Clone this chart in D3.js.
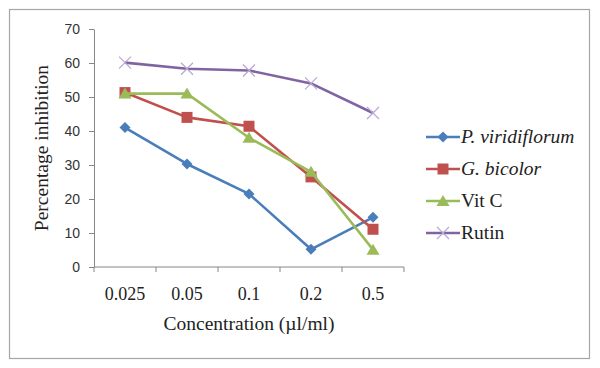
<!DOCTYPE html>
<html>
<head>
<meta charset="utf-8">
<script src="https://cdn.jsdelivr.net/npm/d3@7"></script>
<style>
  body { margin: 0; background: #fff; }
  .ytick text { font-family: "Liberation Sans", Arial, sans-serif; font-size: 14px; fill: #333; }
  .xtick text { font-family: "Liberation Serif", "Times New Roman", serif; font-size: 18px; fill: #222; }
  .title { font-family: "Liberation Serif", "Times New Roman", serif; font-size: 19.5px; fill: #222; }
  .legend text { font-family: "Liberation Serif", "Times New Roman", serif; font-size: 19.5px; fill: #222; }
</style>
</head>
<body>
<div id="chart"></div>
<script>
// chart values
const concentrations = ["0.025", "0.05", "0.1", "0.2", "0.5"];
const yTicks = [0, 10, 20, 30, 40, 50, 60, 70];
const seriesNames = ["P. viridiflorum", "G. bicolor", "Vit C", "Rutin"];
const italicNames = [true, true, false, false];
const pViridiflorum = [41, 30.3, 21.5, 5.2, 14.6];
const gBicolor = [51.3, 44, 41.4, 26.5, 11.1];
const vitC = [51, 51, 38, 28, 5.1];
const rutin = [60.1, 58.3, 57.8, 54, 45.3];
const seriesValues = [pViridiflorum, gBicolor, vitC, rutin];
const colors = ["#4a7ebb", "#c0504d", "#9bbb59", "#8064a2"];
const markers = ["diamond", "square", "triangle", "cross"];

const W = 600, H = 368;
const margin = {top: 29, right: 196, bottom: 101, left: 94};
const width = W - margin.left - margin.right;
const height = H - margin.top - margin.bottom;

const svg = d3.select("#chart").append("svg")
    .attr("width", W)
    .attr("height", H);

// outer frame
svg.append("rect")
    .attr("x", 9.5).attr("y", 9.5)
    .attr("width", 580).attr("height", 349)
    .attr("fill", "none")
    .attr("stroke", "#a6a6a6")
    .attr("stroke-width", 1.2);

const g = svg.append("g")
    .attr("transform", `translate(${margin.left}, ${margin.top})`);

const xScale = d3.scaleBand()
    .domain(concentrations)
    .range([0, width]);
const yScale = d3.scaleLinear()
    .domain([0, 70])
    .range([height, 0]);

// y axis
const yAxis = g.append("g")
    .attr("class", "ytick")
    .call(d3.axisLeft(yScale).tickValues(yTicks).tickSize(5).tickSizeOuter(0).tickPadding(9));
yAxis.selectAll("line, path").attr("stroke", "#868686");

// x axis, ticks between categories
const xAxis = g.append("g")
    .attr("class", "xtick")
    .attr("transform", `translate(0,${height})`);
xAxis.append("line")
    .attr("x1", 0).attr("x2", width)
    .attr("stroke", "#868686");
const boundaries = concentrations.map(c => xScale(c)).concat([width]);
xAxis.selectAll("line.tk")
    .data(boundaries)
    .join("line")
    .attr("class", "tk")
    .attr("x1", d => d).attr("x2", d => d)
    .attr("y1", 0).attr("y2", 5)
    .attr("stroke", "#868686");
xAxis.selectAll("text")
    .data(concentrations)
    .join("text")
    .attr("x", d => xScale(d) + xScale.bandwidth() / 2)
    .attr("y", 33)
    .attr("text-anchor", "middle")
    .text(d => d);

// axis titles
g.append("text")
    .attr("class", "title")
    .attr("text-anchor", "middle")
    .attr("x", width / 2)
    .attr("y", height + 63)
    .text("Concentration (\u00b5l/ml)");
g.append("text")
    .attr("class", "title")
    .attr("text-anchor", "middle")
    .attr("transform", "rotate(-90)")
    .attr("x", -height / 2)
    .attr("y", -46)
    .text("Percentage inhibition");

const cx = c => xScale(c) + xScale.bandwidth() / 2;
const line = d3.line()
    .x((d, i) => cx(concentrations[i]))
    .y(d => yScale(d));

function drawMarker(sel, type, color) {
    if (type === "diamond") {
        sel.append("path").attr("d", "M0,-5.5L5.5,0L0,5.5L-5.5,0Z").attr("fill", color);
    } else if (type === "square") {
        sel.append("rect").attr("x", -5.5).attr("y", -5.5).attr("width", 11).attr("height", 11).attr("fill", color);
    } else if (type === "triangle") {
        sel.append("path").attr("d", "M0,-6L6.5,5L-6.5,5Z").attr("fill", color);
    } else {
        sel.append("path").attr("d", "M-6,-6L6,6M-6,6L6,-6")
            .attr("stroke", "#b7a7d3").attr("stroke-width", 1.2).attr("fill", "none");
    }
}

seriesValues.forEach((vals, s) => {
    g.append("path")
        .datum(vals)
        .attr("fill", "none")
        .attr("stroke", colors[s])
        .attr("stroke-width", 2.6)
        .attr("stroke-linejoin", "round")
        .attr("d", line);
    vals.forEach((v, i) => {
        const m = g.append("g")
            .attr("transform", `translate(${cx(concentrations[i])},${yScale(v)})`);
        drawMarker(m, markers[s], colors[s]);
    });
});

// legend
const legend = svg.append("g").attr("class", "legend");
seriesNames.forEach((name, s) => {
    const y = 137 + s * 32;
    legend.append("line")
        .attr("x1", 426).attr("x2", 460)
        .attr("y1", y).attr("y2", y)
        .attr("stroke", colors[s])
        .attr("stroke-width", 2.6);
    const m = legend.append("g").attr("transform", `translate(443,${y})`);
    drawMarker(m, markers[s], colors[s]);
    legend.append("text")
        .attr("x", 461)
        .attr("y", y + 6)
        .style("font-style", italicNames[s] ? "italic" : "normal")
        .text(name);
});
</script>
</body>
</html>
